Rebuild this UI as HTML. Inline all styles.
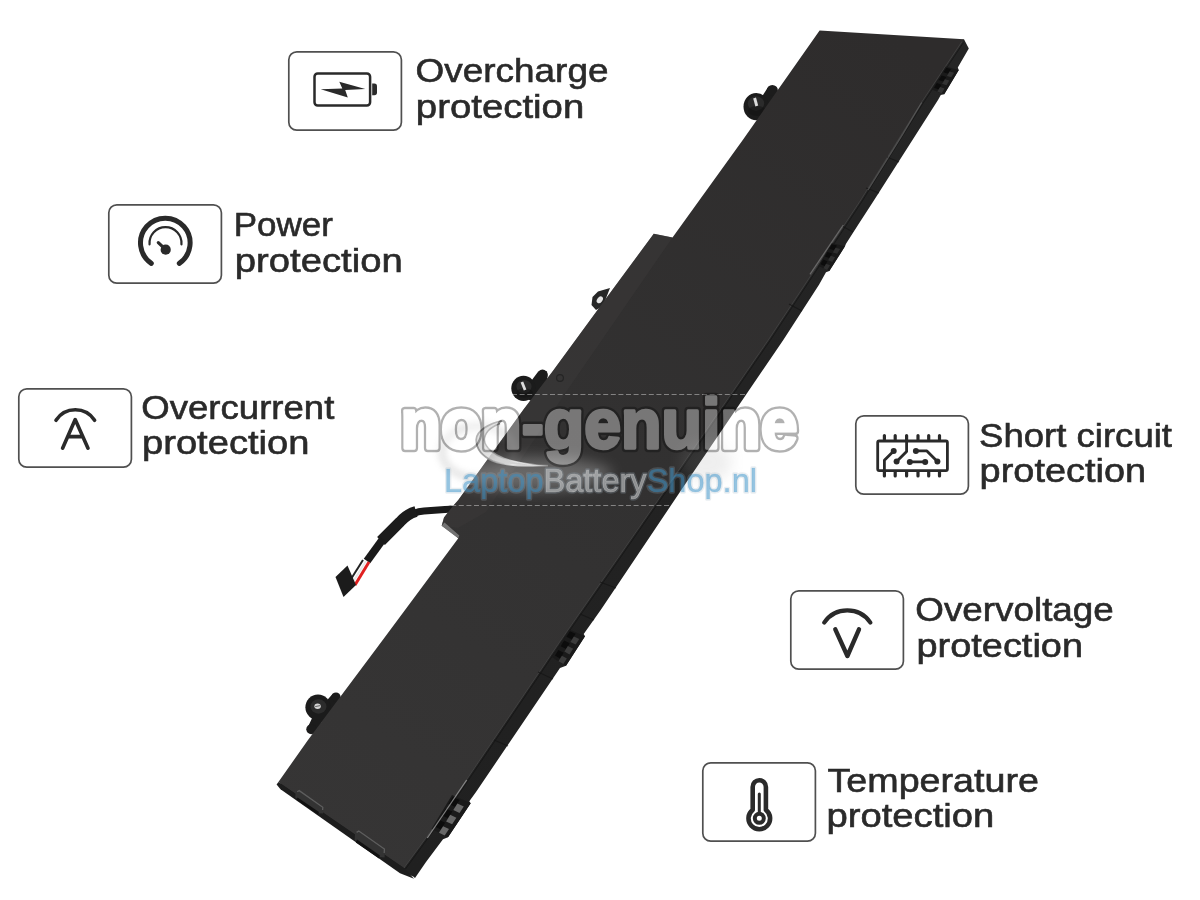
<!DOCTYPE html>
<html lang="en">
<head>
<meta charset="utf-8">
<title>Battery protection features</title>
<style>
  html, body { margin: 0; padding: 0; background: #ffffff; }
  body { width: 1200px; height: 900px; overflow: hidden; font-family: "Liberation Sans", sans-serif; }
  svg { display: block; will-change: transform; }
  .lbl { font-family: "Liberation Sans", sans-serif; font-size: 33px; fill: #2a2a2a; stroke: #2a2a2a; stroke-width: 0.6px; }
  .box { fill: #ffffff; stroke: #505050; stroke-width: 1.7; }
  .ic  { fill: none; stroke: #2a2a2a; stroke-linecap: round; stroke-linejoin: round; }
</style>
</head>
<body>
<svg width="1200" height="900" viewBox="0 0 1200 900">
  <defs>
    <linearGradient id="face" gradientUnits="userSpaceOnUse" x1="900" y1="40" x2="340" y2="860">
      <stop offset="0" stop-color="#2e2c2c"/>
      <stop offset="0.5" stop-color="#323131"/>
      <stop offset="1" stop-color="#363535"/>
    </linearGradient>
    <linearGradient id="side" gradientUnits="userSpaceOnUse" x1="960" y1="45" x2="415" y2="875">
      <stop offset="0" stop-color="#252525"/>
      <stop offset="1" stop-color="#202020"/>
    </linearGradient>
  </defs>

  <rect x="0" y="0" width="1200" height="900" fill="#ffffff"/>

  <!-- ================= BATTERY ================= -->
  <g id="battery">

    <!-- cable (drawn first so body overlaps its root) -->
    <path d="M452 509 L424 511 Q412 512 404 520" fill="none" stroke="#1a1a1a" stroke-width="7" stroke-linecap="round"/>
    <path d="M416 511.5 Q407 514 400 522 L381 541" fill="none" stroke="#1c1c1c" stroke-width="11" stroke-linecap="butt"/>
    <path d="M383 539 L367 561" fill="none" stroke="#1a1a1a" stroke-width="8" stroke-linecap="butt"/>
    <path d="M363 560 L351 579" fill="none" stroke="#222" stroke-width="2"/>
    <path d="M366 561 L353 582" fill="none" stroke="#e8e8e8" stroke-width="2"/>
    <path d="M369 562 L355 585" fill="none" stroke="#e02020" stroke-width="3"/>
    <polygon points="335.5,577 347.5,565.5 356,585 343.5,597" fill="#1b1b1b"/>

    <!-- screw tabs -->
    <g>
      <path d="M767.5 88 L776.5 87 L776 102 L765 118 L752 112 Z" fill="#1c1c1c"/>
      <circle cx="772.3" cy="90.5" r="5.6" fill="#1c1c1c"/>
      <ellipse cx="756.3" cy="106.7" rx="12.8" ry="13.6" fill="#1b1b1b"/>
      <ellipse cx="756" cy="103.5" rx="8.2" ry="7.2" fill="#2b2b2b"/>
      <ellipse cx="757" cy="111" rx="9" ry="5" fill="#111" opacity="0.5"/>
      <path d="M753.2 98.5 L756 97.6 L758.2 105.4 L755.4 106.4 Z" fill="#dcdcdc"/>
    </g>
    <g>
      <path d="M610 288 L598 291.5 L592.5 297 L591.5 305 L596 310 L603 306 Z" fill="#262626"/>
      <ellipse cx="599.8" cy="299.8" rx="2.6" ry="3.8" fill="#e4e4e4" transform="rotate(38 599.8 299.8)"/>
    </g>
    <g>
      <path d="M537.5 372.5 L546.5 371 L548 384 L534 402 L520 396 Z" fill="#1c1c1c"/>
      <circle cx="542.5" cy="375" r="5.4" fill="#1c1c1c"/>
      <ellipse cx="523.5" cy="388.3" rx="12.2" ry="12.6" fill="#1b1b1b"/>
      <ellipse cx="524" cy="386.5" rx="7.6" ry="6.6" fill="#2b2b2b"/>
      <ellipse cx="524.5" cy="393" rx="8.5" ry="4.5" fill="#111" opacity="0.5"/>
      <path d="M520.6 382.6 L523.2 381.6 L526.4 389.6 L523.8 390.6 Z" fill="#dcdcdc"/>
    </g>
    <g>
      <path d="M333 693.5 L339 694 L336 712 L322 722 L315 735 L307 729 L313 716 Z" fill="#1c1c1c"/><circle cx="336" cy="697" r="4.6" fill="#1c1c1c"/>
      <ellipse cx="318" cy="707.2" rx="12.6" ry="12.8" fill="#1b1b1b"/>
      <circle cx="311.3" cy="729.2" r="5" fill="#1c1c1c"/>
      <ellipse cx="318.5" cy="706.5" rx="8" ry="7.2" fill="#2c2c2c"/>
      <ellipse cx="317.6" cy="706.3" rx="3.2" ry="2.7" fill="#d4d4d4"/>
      <path d="M315.2 706.6 L320.2 705.6" stroke="#555" stroke-width="0.9"/>
    </g>

    <!-- base (prevents AA seams) -->
    <polygon fill="#1f1f1f" points="821,33 962,41.5 965.5,48.5 935,99 871,200 780,340 685,480 557,668 473,792 424,861 413.2,876.4 401,871.5 282,788 280,784 310,741.5 385,640.5 460,540 445,524.5 455,507.5 524,411 553.5,373.5 605,303 655,236 673,240 744.5,141"/>
    <!-- side face (right / thickness) -->
    <polygon fill="url(#side)" points="962,40 964,39.2 968.8,48.5 957.8,67.5 958.75,70 944.2,94.2 940.8,95 938,100 874.2,200 858,225 846,243.7 845,246.3 829.3,271 826,272.3 819,284.7 783.3,340 688,480 600.7,610 583.7,634 585,636.3 566,665.7 560,668 476,792 469.3,801.3 470.7,803.3 448,837.3 443,839.3 426,862 415,878 404,868 442,816 561,640 672,480 768.3,340 860.8,200 921.3,102.7"/>
    <!-- top face -->
    <polygon fill="url(#face)" points="819.6,30.4 964,39.2 921.3,102.7 860.8,200 768.3,340 672,480 561,640 442,816 404,868 278.4,782 308,740 383.3,639.2 458.3,538.3 441.7,525.8 444,517.5 453,506 458.3,500 523.5,409.5 552.5,371.5 604.5,300.5 653.75,233.75 672.5,237.5 743.3,139.3"/>
    <!-- upper-left rail (slightly lighter) -->
    <polygon fill="#3a3939" opacity="0.55" points="653.75,233.75 672.5,237.5 566,392 486,512 458,528 441.7,525.8 444,517.5 453,506 458.3,500 523.5,409.5 552.5,371.5 604.5,300.5"/>
    <polygon points="441.7,525.8 458.3,538.3 459.3,535.6 444.5,522.6" fill="#8a8a8a" opacity="0.75"/>
    <circle cx="560" cy="378" r="3.4" fill="none" stroke="#242424" stroke-width="1.2"/>
    <!-- thin highlight on inner right edge -->
    <polyline fill="none" stroke="#484848" stroke-width="1" opacity="0.7" points="962,41.5 921.3,102.7 860.8,200 768.3,340 672,480 561,640 442,816 404,868"/>
    <polyline fill="none" stroke="#111" stroke-width="1" opacity="0.6" points="963.5,42.5 922.8,103.7 862.3,201 769.8,341 673.5,481 562.5,641 443.5,817 405.5,869"/>
    <!-- side-face segment breaks -->
    <g stroke="#141414" stroke-width="1.2" opacity="0.7">
      <line x1="887" y1="157" x2="899" y2="162"/>
      <line x1="866" y1="188" x2="879" y2="193"/>
      <line x1="842" y1="226" x2="853" y2="232"/>
      <line x1="789" y1="304" x2="802" y2="311"/>
      <line x1="600" y1="582" x2="616" y2="588"/>
      <line x1="580" y1="614" x2="594" y2="620"/>
      <line x1="538" y1="672" x2="553" y2="679"/>
      <line x1="494" y1="740" x2="508" y2="746"/>
    </g>
    <!-- side clips -->
    <g>
      <polygon points="945.8,66.5 958.8,70.0 944.2,94.2 931.7,89.5" fill="#1a1a1a"/>
      <polygon points="946.3,67.7 951.1,69.0 948.2,73.7 943.4,72.3" fill="#0c0c0c"/>
      <polygon points="949.6,71.4 954.1,72.7 951.3,77.3 946.9,75.9" fill="#333333"/>
      <polygon points="941.6,75.4 946.3,76.9 943.4,81.6 938.7,80.0" fill="#0c0c0c"/>
      <polygon points="944.9,79.2 949.3,80.6 946.5,85.3 942.1,83.8" fill="#333333"/>
      <polygon points="936.8,83.1 941.5,84.7 938.7,89.4 934.0,87.7" fill="#0c0c0c"/>
      <polygon points="940.1,87.1 944.5,88.6 941.7,93.3 937.3,91.6" fill="#333333"/>
      <polygon points="831.3,243.0 845.0,246.3 829.3,271.0 818.5,266.0" fill="#1a1a1a"/>
      <polygon points="831.9,244.2 836.9,245.4 834.1,250.2 829.3,248.8" fill="#0c0c0c"/>
      <polygon points="835.5,247.8 840.1,249.1 837.2,253.8 832.8,252.4" fill="#303030"/>
      <polygon points="827.5,251.9 832.2,253.4 829.4,258.1 824.9,256.5" fill="#0c0c0c"/>
      <polygon points="830.8,255.7 835.1,257.2 832.2,261.9 828.1,260.3" fill="#303030"/>
      <polygon points="823.2,259.6 827.5,261.3 824.7,266.0 820.6,264.2" fill="#0c0c0c"/>
      <polygon points="826.1,263.7 830.1,265.3 827.1,270.0 823.4,268.2" fill="#303030"/>
      <polygon points="569.3,629.5 585.0,636.3 566.0,665.7 552.3,657.5" fill="#1a1a1a"/>
      <polygon points="569.9,631.2 575.6,633.7 572.1,639.4 566.4,636.8" fill="#0c0c0c"/>
      <polygon points="573.9,636.6 579.3,639.0 575.7,644.6 570.4,642.1" fill="#3c3c3c"/>
      <polygon points="564.1,640.5 569.7,643.2 566.1,649.0 560.7,646.2" fill="#0c0c0c"/>
      <polygon points="567.9,646.1 573.1,648.7 569.5,654.4 564.4,651.6" fill="#3c3c3c"/>
      <polygon points="558.4,649.9 563.7,652.8 560.1,658.5 555.0,655.5" fill="#0c0c0c"/>
      <polygon points="561.9,655.7 566.9,658.4 563.3,664.1 558.5,661.2" fill="#3c3c3c"/>
      <polygon points="452.0,795.0 470.7,803.3 448.0,837.3 431.5,829.0" fill="#1a1a1a"/>
      <polygon points="452.7,797.0 459.6,800.1 455.3,806.9 448.5,803.8" fill="#0c0c0c"/>
      <polygon points="457.4,803.5 463.8,806.4 459.5,813.0 453.3,810.1" fill="#686868"/>
      <polygon points="445.8,808.4 452.4,811.4 448.1,818.2 441.6,815.2" fill="#0c0c0c"/>
      <polygon points="450.2,814.8 456.4,817.7 452.1,824.3 446.1,821.4" fill="#686868"/>
      <polygon points="438.9,819.7 445.2,822.8 440.9,829.6 434.7,826.5" fill="#0c0c0c"/>
      <polygon points="443.1,826.2 449.0,829.1 444.7,835.6 438.9,832.7" fill="#686868"/>
    </g>
    <!-- front lip + clips -->
    <polygon points="278.4,782 404,868 414,878.7 400,873.2 280.5,789.3 276.6,784.6" fill="#1d1d1d"/>
    <polygon points="295.6,793 299,790.2 323.2,807 323,813.4 318,813.2 295.2,797.6" fill="#333333"/>
    <polygon points="297.6,797.4 319,812 318,814.6 296.4,799.8" fill="#111111"/>
    <polyline points="297.2,791.8 299.2,790.6 322.8,807.2 322.6,810" fill="none" stroke="#5e5e5e" stroke-width="1.3"/>
    <polygon points="355,833.4 358.6,830.6 384.8,848.8 384.6,857.6 379,857 354.6,840" fill="#333333"/>
    <polygon points="357,839.4 380,855.4 379,858.6 355.8,842.4" fill="#111111"/>
    <polyline points="356.6,832.4 358.8,831 384.4,849 384.2,853" fill="none" stroke="#5e5e5e" stroke-width="1.3"/>
    <polyline points="466.7,780 427.3,838" fill="none" stroke="#9a9a9a" stroke-width="1.3" opacity="0.8"/>
    <polyline points="843.3,225 810,274.3" fill="none" stroke="#808080" stroke-width="1.3" opacity="0.7"/>
    <polyline points="921.7,102.5 902.5,134.6 868,190" fill="none" stroke="#6a6a6a" stroke-width="1.2" opacity="0.6"/>
  </g>

  <!-- ================= WATERMARK ================= -->
  <g id="watermark">

    <defs>
      <filter id="blur3" x="-30%" y="-30%" width="160%" height="160%"><feGaussianBlur stdDeviation="3"/></filter>
      <filter id="blur1" x="-30%" y="-30%" width="160%" height="160%"><feGaussianBlur stdDeviation="0.7"/></filter>
      <filter id="blur6" x="-50%" y="-50%" width="200%" height="200%"><feGaussianBlur stdDeviation="7"/></filter>
      <linearGradient id="sw" gradientUnits="userSpaceOnUse" x1="490" y1="422" x2="548" y2="468">
        <stop offset="0" stop-color="#c4c4c4" stop-opacity="0.75"/>
        <stop offset="0.4" stop-color="#e8e8e8" stop-opacity="0.85"/>
        <stop offset="0.8" stop-color="#ffffff" stop-opacity="0.7"/>
        <stop offset="1" stop-color="#ffffff" stop-opacity="0"/>
      </linearGradient>
      <linearGradient id="swl" gradientUnits="userSpaceOnUse" x1="490" y1="422" x2="548" y2="468">
        <stop offset="0" stop-color="#7c7c7c" stop-opacity="0.85"/>
        <stop offset="0.35" stop-color="#9a9a9a" stop-opacity="0.8"/>
        <stop offset="0.6" stop-color="#f0f0f0" stop-opacity="0.8"/>
        <stop offset="1" stop-color="#ffffff" stop-opacity="0.1"/>
      </linearGradient>
    </defs>
    <!-- dashed guide lines -->
    <line x1="398" y1="394.5" x2="800" y2="394.5" stroke="#ffffff" stroke-opacity="0.4" stroke-width="1.1" stroke-dasharray="5 2.6"/>
    <line x1="398" y1="505.5" x2="800" y2="505.5" stroke="#ffffff" stroke-opacity="0.4" stroke-width="1.1" stroke-dasharray="5 2.6"/>
    <!-- soft haze -->
    <ellipse cx="532" cy="474" rx="80" ry="17" fill="#ffffff" opacity="0.26" filter="url(#blur6)"/>
    <ellipse cx="478" cy="452" rx="36" ry="26" fill="none" stroke="#8a8a8a" stroke-width="8" opacity="0.2" filter="url(#blur3)"/>
    <ellipse cx="706" cy="462" rx="26" ry="20" fill="#9a9a9a" opacity="0.16" filter="url(#blur6)"/>
    <!-- swoosh -->
    <path d="M501.8 420.8 C490 423 476 431 476.2 440 C476.5 450 484 457 492.7 461 C506 466 530 466.5 548 465.7 C538 465.6 517 463 503.7 458.3 C495 455 485 448 484.4 440 C484.5 433 491 427 500 423.5 Z" fill="url(#sw)" filter="url(#blur1)"/>
    <path d="M501.8 420.8 C490 423 476 431 476.2 440 C476.5 450 484 457 492.7 461 C506 466 530 466.5 548 465.7" fill="none" stroke="url(#swl)" stroke-width="1.8" filter="url(#blur1)"/>
    <path d="M500 423.5 C491 427 484.5 433 484.4 440 C485 448 495 455 503.7 458.3 C517 463 538 465.6 548 465.7" fill="none" stroke="url(#swl)" stroke-width="1.5" filter="url(#blur1)"/>
    <!-- non-genuine -->
    <defs>
      <mask id="ngmask" maskUnits="userSpaceOnUse" x="380" y="380" width="440" height="100">
        <rect x="380" y="380" width="440" height="100" fill="#ffffff"/>
        <text x="400.5" y="448" textLength="397" lengthAdjust="spacingAndGlyphs" font-family="Liberation Sans, sans-serif" font-weight="bold" font-size="71" fill="#000" stroke="#000" stroke-width="3.4" stroke-linejoin="round">non-genuine</text>
      </mask>
    </defs>
    <g opacity="0.3" mask="url(#ngmask)">
      <text x="400.5" y="448" textLength="397" lengthAdjust="spacingAndGlyphs" font-family="Liberation Sans, sans-serif" font-weight="bold" font-size="71" fill="#000" stroke="#000" stroke-width="8.4" stroke-linejoin="round">non-genuine</text>
    </g>
    <g opacity="0.34">
      <text x="400.5" y="448" textLength="397" lengthAdjust="spacingAndGlyphs" font-family="Liberation Sans, sans-serif" font-weight="bold" font-size="71" fill="#fff" stroke="#fff" stroke-width="3.4" stroke-linejoin="round">non-genuine</text>
    </g>
    <!-- LaptopBatteryShop.nl -->
    <g opacity="0.22">
      <text x="444" y="492.3" textLength="313" lengthAdjust="spacingAndGlyphs" font-family="Liberation Sans, sans-serif" font-size="33.5" fill="none" stroke="#9fb4c4" stroke-width="3.4" stroke-linejoin="round">LaptopBatteryShop.nl</text>
    </g>
    <text x="444" y="492.3" textLength="313" lengthAdjust="spacingAndGlyphs"
          font-family="Liberation Sans, sans-serif" font-size="33.5" stroke-width="0.7"><tspan fill="#3291cd" fill-opacity="0.46" stroke="#3291cd" stroke-opacity="0.2">Laptop</tspan><tspan fill="#d0d0d0" fill-opacity="0.5" stroke="#d0d0d0" stroke-opacity="0.5">Battery</tspan><tspan fill="#3291cd" fill-opacity="0.46" stroke="#3291cd" stroke-opacity="0.2">Shop.nl</tspan></text>

  </g>

  <!-- ================= FEATURE BOXES ================= -->
  <g id="features">

    <!-- 1. Overcharge -->
    <rect class="box" x="288.8" y="51.8" width="112.6" height="78.4" rx="8" ry="8"/>
    <rect class="ic" x="314.5" y="73.5" width="55.6" height="32" rx="3.2" ry="3.2" stroke-width="2.5"/>
    <path d="M372.2 83.6 H374.4 A2.6 2.6 0 0 1 377 86.2 V92.6 A2.6 2.6 0 0 1 374.4 95.2 H372.2 Z" fill="#2a2a2a"/>
    <polygon points="320.7,89.3 342.3,88.6 339.3,81.7 365.3,89.1 345.2,90.1 347.8,97.4" fill="#2a2a2a"/>
    <text class="lbl" x="415.5" y="82" textLength="193" lengthAdjust="spacingAndGlyphs">Overcharge</text>
    <text class="lbl" x="415.8" y="118" textLength="168.5" lengthAdjust="spacingAndGlyphs">protection</text>

    <!-- 2. Power -->
    <rect class="box" x="108.8" y="204.8" width="112.6" height="78.4" rx="8" ry="8"/>
    <path class="ic" stroke-width="5" d="M151.3 263.4 A24.8 24.8 0 1 1 179.3 263.4"/>
    <path class="ic" stroke-width="2.2" d="M149.55 244.4 A16 16 0 1 1 181.45 244.4"/>
    <circle cx="165.7" cy="249.7" r="5.1" fill="#2a2a2a"/>
    <path class="ic" stroke-width="3.2" d="M165.7 249.7 L158.3 242.6"/>
    <text class="lbl" x="233.8" y="236" textLength="99" lengthAdjust="spacingAndGlyphs">Power</text>
    <text class="lbl" x="234.8" y="272" textLength="168" lengthAdjust="spacingAndGlyphs">protection</text>

    <!-- 3. Overcurrent -->
    <rect class="box" x="18.8" y="388.8" width="112.6" height="78.4" rx="8" ry="8"/>
    <path class="ic" stroke-width="3.6" d="M56 420.3 A23 23 0 0 1 94.6 420.3"/>
    <path class="ic" stroke-width="3.6" d="M62.6 448.2 L75.2 419.6 L88 448.2 M67.8 436.6 H82.6"/>
    <text class="lbl" x="141.3" y="418.6" textLength="193" lengthAdjust="spacingAndGlyphs">Overcurrent</text>
    <text class="lbl" x="142" y="454.4" textLength="167.5" lengthAdjust="spacingAndGlyphs">protection</text>

    <!-- 4. Short circuit -->
    <rect class="box" x="855.8" y="415.8" width="112.6" height="78.4" rx="8" ry="8"/>
    <rect class="ic" x="877.7" y="441" width="69.7" height="29.6" rx="1.5" ry="1.5" stroke-width="2.8"/>
    <path class="ic" stroke-width="3.2" d="M884.4 439.5 V435.6 M895.2 439.5 V435.6 M906.6 439.5 V435.6 M918 439.5 V435.6 M928.7 439.5 V435.6 M939.5 439.5 V435.6 M884.4 472 V476 M895.2 472 V476 M906.6 472 V476 M918 472 V476 M928.7 472 V476 M939.5 472 V476"/>
    <path class="ic" stroke-width="2.8" d="M884.4 471 V460.2 L893.7 450.9 M906.6 440 V451.5 L896.6 461.6 M915.9 450.9 H926.9 L937.4 461.6 M909.8 461.9 H925.2"/>
    <g fill="#2a2a2a"><circle cx="893.7" cy="450.9" r="3"/><circle cx="896.6" cy="461.6" r="3"/><circle cx="915.9" cy="450.9" r="3"/><circle cx="937.4" cy="461.6" r="3"/><circle cx="909.8" cy="461.9" r="3"/><circle cx="925.2" cy="461.9" r="3"/></g>
    <text class="lbl" x="979" y="446.5" textLength="193" lengthAdjust="spacingAndGlyphs">Short circuit</text>
    <text class="lbl" x="979.6" y="482" textLength="166.5" lengthAdjust="spacingAndGlyphs">protection</text>

    <!-- 5. Overvoltage -->
    <rect class="box" x="790.8" y="590.8" width="112.6" height="78.4" rx="8" ry="8"/>
    <path class="ic" stroke-width="4.2" d="M824.2 622.6 A28 28 0 0 1 870.4 622.6"/>
    <path class="ic" stroke-width="4.4" d="M835.3 629.3 L847.4 656 L859 629.3"/>
    <text class="lbl" x="915.3" y="621" textLength="198.5" lengthAdjust="spacingAndGlyphs">Overvoltage</text>
    <text class="lbl" x="916.5" y="657" textLength="166.5" lengthAdjust="spacingAndGlyphs">protection</text>

    <!-- 6. Temperature -->
    <rect class="box" x="702.8" y="762.8" width="112.6" height="78.4" rx="8" ry="8"/>
    <path class="ic" stroke-width="4.6" d="M752.7 809.9 V786.9 A6.6 6.6 0 0 1 765.9 786.9 V809.9 A10.8 10.8 0 1 1 752.7 809.9 Z"/>
    <circle class="ic" cx="759.3" cy="818.3" r="4.5" stroke-width="4"/>
    <path class="ic" stroke-width="3" d="M759.3 794 V813"/>
    <text class="lbl" x="827.5" y="791.5" textLength="211.5" lengthAdjust="spacingAndGlyphs">Temperature</text>
    <text class="lbl" x="826.4" y="827" textLength="168" lengthAdjust="spacingAndGlyphs">protection</text>

  </g>
</svg>
</body>
</html>
